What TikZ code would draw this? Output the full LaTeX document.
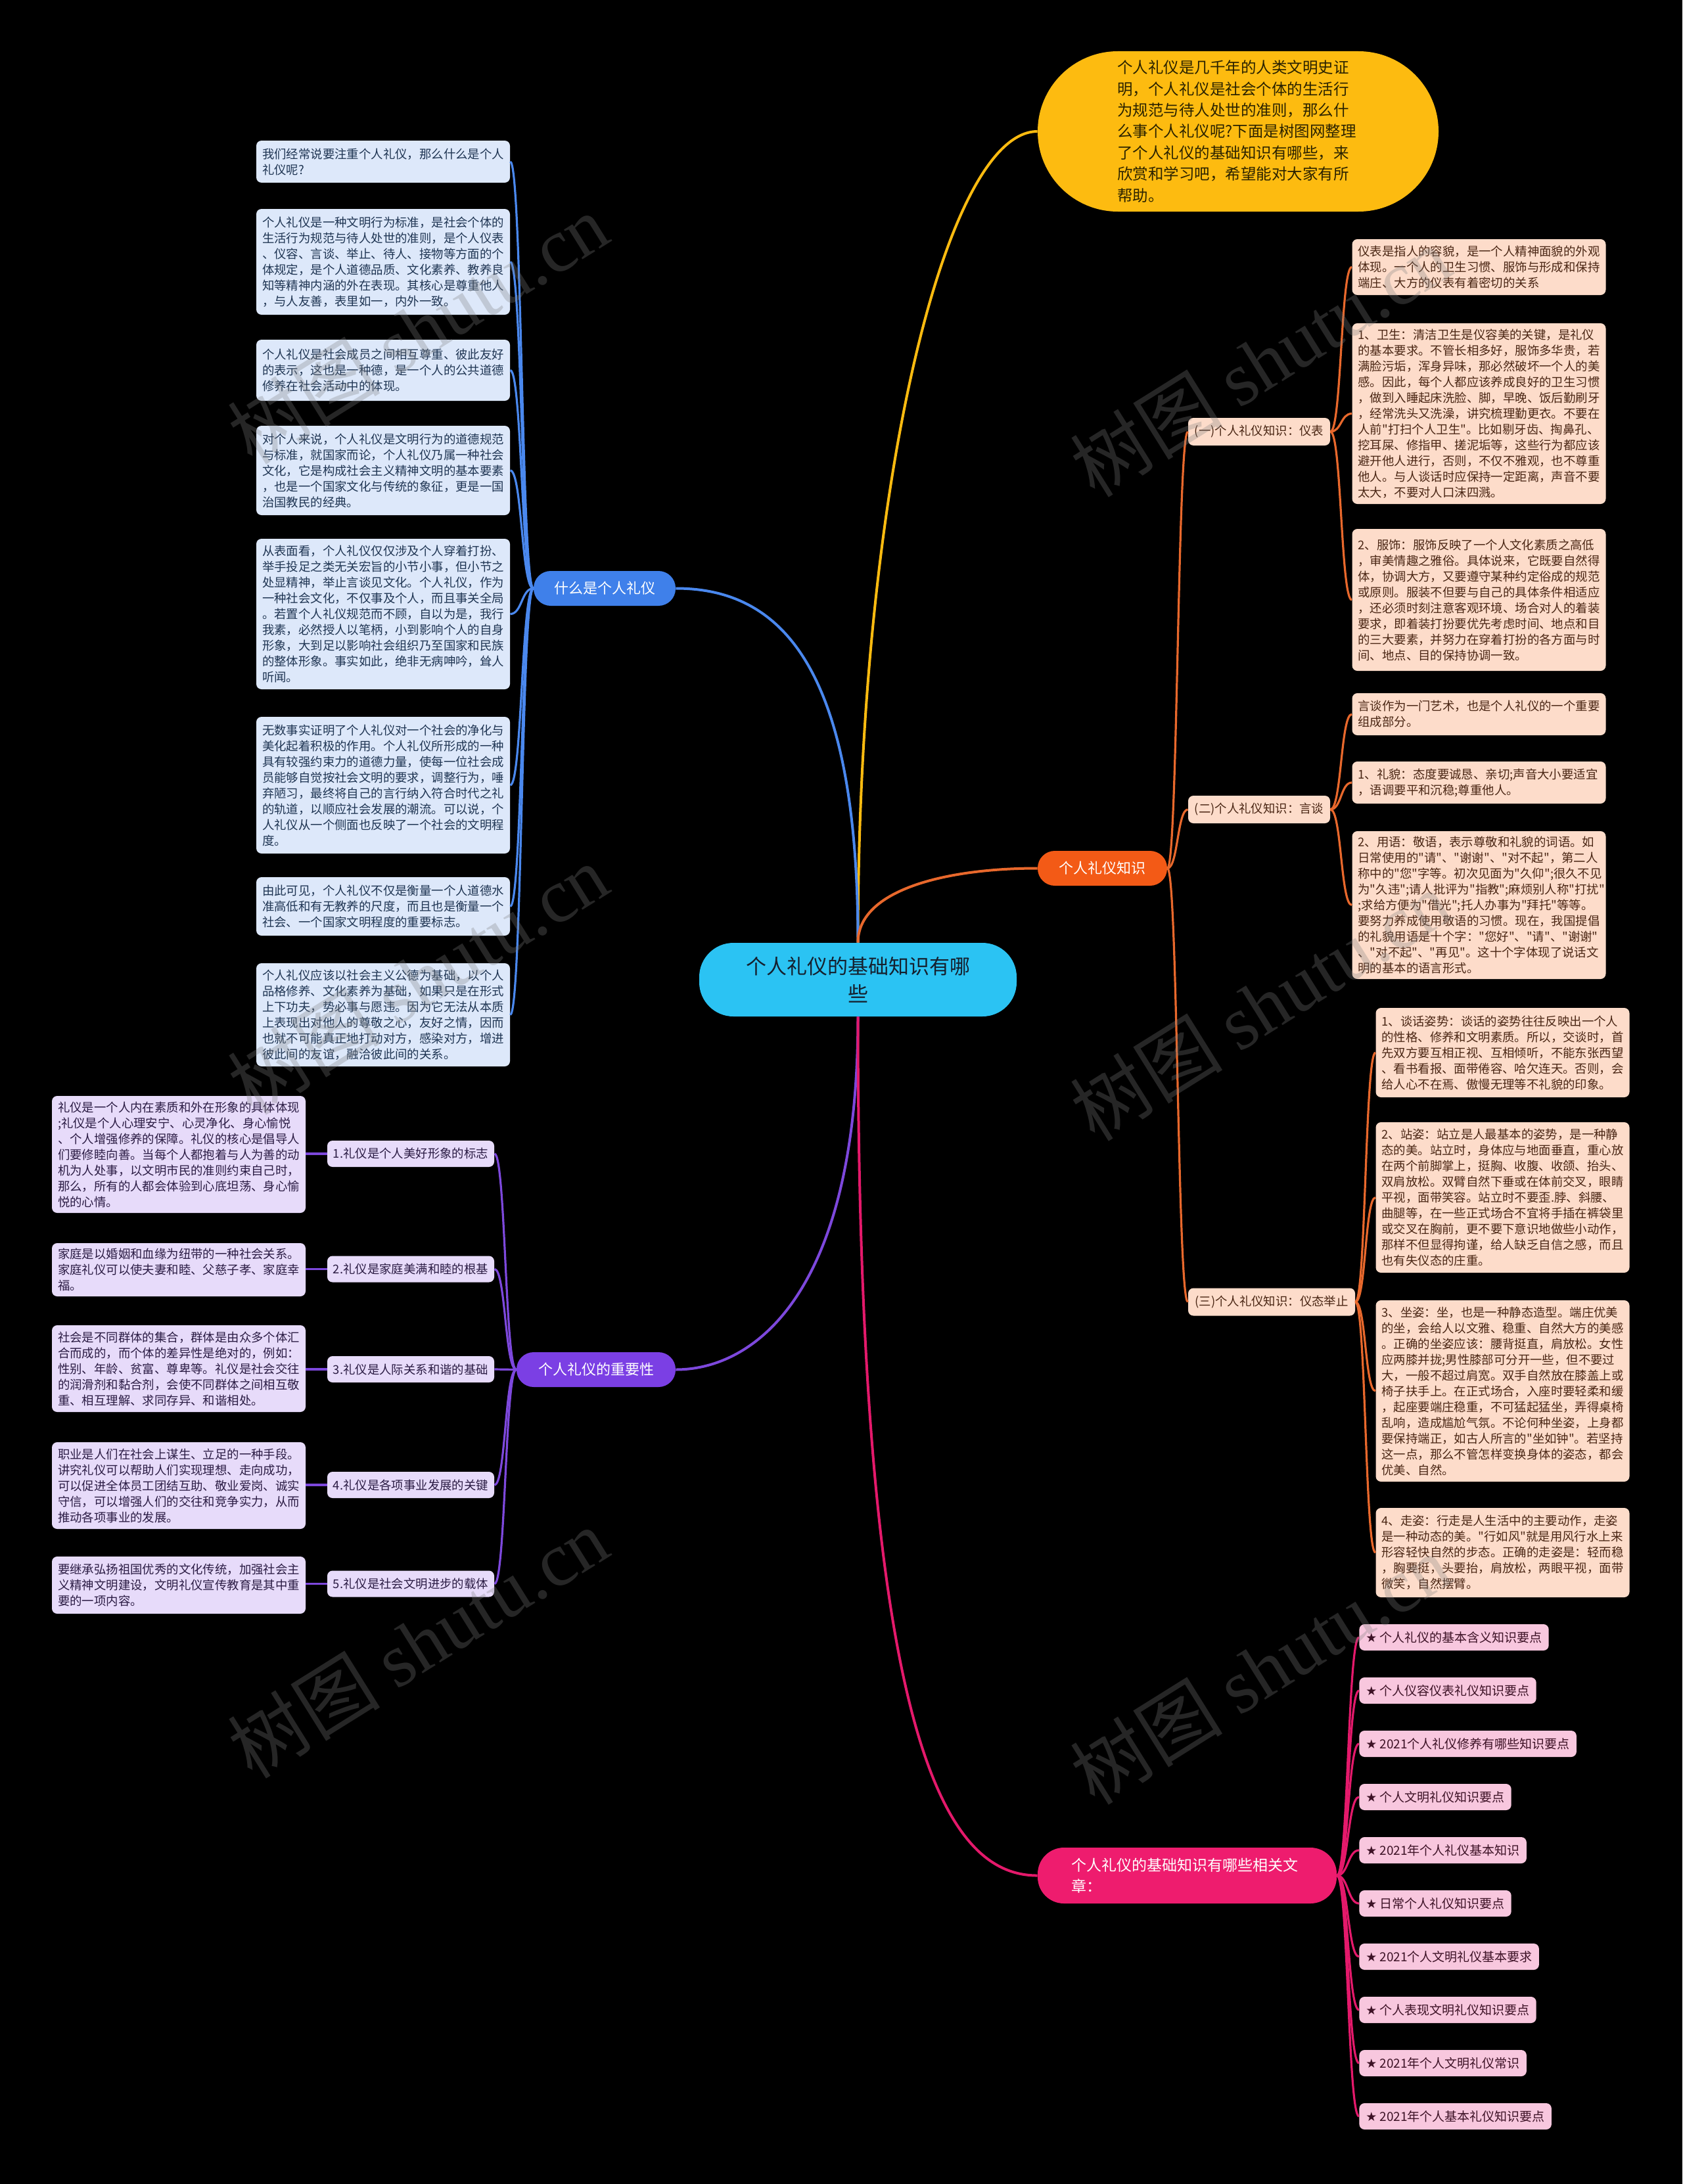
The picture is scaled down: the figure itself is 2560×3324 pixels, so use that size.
\documentclass[tikz,border=0pt]{standalone}
\usepackage{fontspec}
\setmainfont{Noto Sans CJK SC}[Ligatures=TeXOff]
\newfontfamily\djv{DejaVu Sans}
\newfontfamily\wmserif{Liberation Serif}
\usetikzlibrary{calc}
\definecolor{rootc}{HTML}{2BC3F3}
\definecolor{introc}{HTML}{FDBB10}
\definecolor{bluec}{HTML}{3F80EA}
\definecolor{bluel}{HTML}{DDE8FA}
\definecolor{bluet}{HTML}{1F3553}
\definecolor{bluelk}{HTML}{4A88EE}
\definecolor{orc}{HTML}{F35A16}
\definecolor{orl}{HTML}{FDDCCA}
\definecolor{ort}{HTML}{4A2614}
\definecolor{orlk}{HTML}{E8682C}
\definecolor{puc}{HTML}{7B3FE4}
\definecolor{pul}{HTML}{E7DBFA}
\definecolor{put}{HTML}{2B1C44}
\definecolor{pulk}{HTML}{7D48DC}
\definecolor{pkc}{HTML}{EE1C6E}
\definecolor{pkl}{HTML}{F8C7DE}
\definecolor{pkt}{HTML}{3D1226}
\definecolor{pklk}{HTML}{E4196B}
\definecolor{introt}{HTML}{2A2200}
\definecolor{roott}{HTML}{15202E}
\newcommand\fsleaf{\fontsize{9.2pt}{12pt}\selectfont}
\newcommand\fslab{\fontsize{9.2pt}{11pt}\selectfont}
\newcommand\fsbr{\fontsize{11pt}{13pt}\selectfont}
\newcommand\hconn[4]{\draw[#1] (#2) .. controls ($(#2)+(#4,0)$) and ($(#3)-(#4,0)$) .. (#3);}
\begin{document}
\begin{tikzpicture}[x=0.5pt,y=-0.5pt,
  leaf/.style={rounded corners=4pt, font=\fsleaf, text width=184pt, align=left, inner xsep=4.5pt, inner ysep=2pt},
  bleaf/.style={leaf, fill=bluel, text=bluet},
  oleaf/.style={leaf, fill=orl, text=ort},
  pleaf/.style={leaf, fill=pul, text=put},
  branch/.style={rounded corners=13pt, font=\fsbr, text=white, minimum height=26.5pt, inner sep=0pt, align=center},
  olab/.style={rounded corners=4pt, fill=orl, text=ort, font=\fslab, minimum height=21pt, inner sep=0pt},
  plab/.style={rounded corners=4pt, fill=pul, text=put, font=\fslab, minimum width=127pt, minimum height=20pt, inner sep=0pt},
  klink/.style={rounded corners=4pt, fill=pkl, text=pkt, font=\fontsize{9.5pt}{11pt}\selectfont, minimum height=20pt, inner xsep=5pt, inner ysep=0pt, anchor=west},
  rootlk/.style={line width=2pt},
  sublk/.style={line width=1.6pt},
  wm/.style={rotate=32, text=gray, opacity=0.3, font=\fontsize{58pt}{58pt}\selectfont}
]
\fill[black] (0,0) rectangle (2560,3324);
\useasboundingbox (0,0) rectangle (2560,3324);

% root and intro
\node[fill=rootc, text=roott, rounded corners=26pt, minimum width=241.5pt, minimum height=56pt, align=center, font=\fontsize{15.5pt}{21pt}\selectfont, inner sep=0pt] (root) at (1305.5,1491) {个人礼仪的基础知识有哪\\些};
\node[fill=introc, text=introt, rounded corners=61pt, minimum width=305pt, minimum height=122pt, text width=184pt, align=left, font=\fontsize{11.75pt}{16.2pt}\selectfont, inner sep=0pt] (intro) at (1884,200) {个人礼仪是几千年的人类文明史证\\明，个人礼仪是社会个体的生活行\\为规范与待人处世的准则，那么什\\么事个人礼仪呢?下面是树图网整理\\了个人礼仪的基础知识有哪些，来\\欣赏和学习吧，希望能对大家有所\\帮助。};

% branches
\node[branch, fill=bluec, minimum width=108pt] (bb) at (920,895.5) {什么是个人礼仪};
\node[branch, fill=orc, minimum width=98.5pt] (ob) at (1677.5,1321.5) {个人礼仪知识};
\node[branch, fill=puc, minimum width=121pt] (pb) at (907,2084.5) {个人礼仪的重要性};
\node[branch, fill=pkc, rounded corners=20pt, minimum width=227.5pt, minimum height=42.5pt, text width=176pt, align=left, font=\fontsize{11.5pt}{16pt}\selectfont] (kb) at (1806.5,2854.5) {个人礼仪的基础知识有哪些相关文\\章：};

% blue leaves
\node[bleaf, minimum height=32pt] (b1) at (583,246) {我们经常说要注重个人礼仪，那么什么是个人\\礼仪呢?};
\node[bleaf, minimum height=80.5pt] (b2) at (583,398.5) {个人礼仪是一种文明行为标准，是社会个体的\\生活行为规范与待人处世的准则，是个人仪表\\、仪容、言谈、举止、待人、接物等方面的个\\体规定，是个人道德品质、文化素养、教养良\\知等精神内涵的外在表现。其核心是尊重他人\\，与人友善，表里如一，内外一致。};
\node[bleaf, minimum height=46.5pt] (b3) at (583,563.5) {个人礼仪是社会成员之间相互尊重、彼此友好\\的表示，这也是一种德，是一个人的公共道德\\修养在社会活动中的体现。};
\node[bleaf, minimum height=68pt] (b4) at (583,716) {对个人来说，个人礼仪是文明行为的道德规范\\与标准，就国家而论，个人礼仪乃属一种社会\\文化，它是构成社会主义精神文明的基本要素\\，也是一个国家文化与传统的象征，更是一国\\治国教民的经典。};
\node[bleaf, minimum height=114.5pt] (b5) at (583,934.5) {从表面看，个人礼仪仅仅涉及个人穿着打扮、\\举手投足之类无关宏旨的小节小事，但小节之\\处显精神，举止言谈见文化。个人礼仪，作为\\一种社会文化，不仅事及个人，而且事关全局\\。若置个人礼仪规范而不顾，自以为是，我行\\我素，必然授人以笔柄，小到影响个人的自身\\形象，大到足以影响社会组织乃至国家和民族\\的整体形象。事实如此，绝非无病呻吟，耸人\\听闻。};
\node[bleaf, minimum height=104pt] (b6) at (583,1195) {无数事实证明了个人礼仪对一个社会的净化与\\美化起着积极的作用。个人礼仪所形成的一种\\具有较强约束力的道德力量，使每一位社会成\\员能够自觉按社会文明的要求，调整行为，唾\\弃陋习，最终将自己的言行纳入符合时代之礼\\的轨道，以顺应社会发展的潮流。可以说，个\\人礼仪从一个侧面也反映了一个社会的文明程\\度。};
\node[bleaf, minimum height=44.5pt] (b7) at (583,1379.5) {由此可见，个人礼仪不仅是衡量一个人道德水\\准高低和有无教养的尺度，而且也是衡量一个\\社会、一个国家文明程度的重要标志。};
\node[bleaf, minimum height=78.5pt] (b8) at (583,1544.5) {个人礼仪应该以社会主义公德为基础，以个人\\品格修养、文化素养为基础，如果只是在形式\\上下功夫，势必事与愿违。因为它无法从本质\\上表现出对他人的尊敬之心，友好之情，因而\\也就不可能真正地打动对方，感染对方，增进\\彼此间的友谊，融洽彼此间的关系。};

% orange labels
\node[olab, minimum width=108pt] (o1) at (1916,657) {(一)个人礼仪知识：仪表};
\node[olab, minimum width=108pt] (o2) at (1916,1232) {(二)个人礼仪知识：言谈};
\node[olab, minimum width=127pt] (o3) at (1935,1981.5) {(三)个人礼仪知识：仪态举止};

% orange leaves
\node[oleaf, minimum height=42.5pt] (a1) at (2250.5,406.5) {仪表是指人的容貌，是一个人精神面貌的外观\\体现。一个人的卫生习惯、服饰与形成和保持\\端庄、大方的仪表有着密切的关系};
\node[oleaf, minimum height=137.5pt] (a2) at (2250.5,629.5) {1、卫生：清洁卫生是仪容美的关键，是礼仪\\的基本要求。不管长相多好，服饰多华贵，若\\满脸污垢，浑身异味，那必然破坏一个人的美\\感。因此，每个人都应该养成良好的卫生习惯\\，做到入睡起床洗脸、脚，早晚、饭后勤刷牙\\，经常洗头又洗澡，讲究梳理勤更衣。不要在\\人前"打扫个人卫生"。比如剔牙齿、掏鼻孔、\\挖耳屎、修指甲、搓泥垢等，这些行为都应该\\避开他人进行，否则，不仅不雅观，也不尊重\\他人。与人谈话时应保持一定距离，声音不要\\太大，不要对人口沫四溅。};
\node[oleaf, minimum height=108pt] (a3) at (2250.5,913) {2、服饰：服饰反映了一个人文化素质之高低\\，审美情趣之雅俗。具体说来，它既要自然得\\体，协调大方，又要遵守某种约定俗成的规范\\或原则。服装不但要与自己的具体条件相适应\\，还必须时刻注意客观环境、场合对人的着装\\要求，即着装打扮要优先考虑时间、地点和目\\的三大要素，并努力在穿着打扮的各方面与时\\间、地点、目的保持协调一致。};
\node[oleaf, minimum height=32pt] (a4) at (2250.5,1087) {言谈作为一门艺术，也是个人礼仪的一个重要\\组成部分。};
\node[oleaf, minimum height=32pt] (a5) at (2250.5,1191) {1、礼貌：态度要诚恳、亲切;声音大小要适宜\\，语调要平和沉稳;尊重他人。};
\node[oleaf, minimum height=112.5pt] (a6) at (2250.5,1377.5) {2、用语：敬语，表示尊敬和礼貌的词语。如\\日常使用的"请"、"谢谢"、"对不起"，第二人\\称中的"您"字等。初次见面为"久仰";很久不见\\为"久违";请人批评为"指教";麻烦别人称"打扰"\\;求给方便为"借光";托人办事为"拜托"等等。\\要努力养成使用敬语的习惯。现在，我国提倡\\的礼貌用语是十个字："您好"、"请"、"谢谢"\\、"对不起"、"再见"。这十个字体现了说话文\\明的基本的语言形式。};
\node[oleaf, minimum height=68pt] (c1) at (2286.5,1602) {1、谈话姿势：谈话的姿势往往反映出一个人\\的性格、修养和文明素质。所以，交谈时，首\\先双方要互相正视、互相倾听，不能东张西望\\、看书看报、面带倦容、哈欠连天。否则，会\\给人心不在焉、傲慢无理等不礼貌的印象。};
\node[oleaf, minimum height=114.5pt] (c2) at (2286.5,1822.5) {2、站姿：站立是人最基本的姿势，是一种静\\态的美。站立时，身体应与地面垂直，重心放\\在两个前脚掌上，挺胸、收腹、收颌、抬头、\\双肩放松。双臂自然下垂或在体前交叉，眼睛\\平视，面带笑容。站立时不要歪.脖、斜腰、\\曲腿等，在一些正式场合不宜将手插在裤袋里\\或交叉在胸前，更不要下意识地做些小动作，\\那样不但显得拘谨，给人缺乏自信之感，而且\\也有失仪态的庄重。};
\node[oleaf, minimum height=138pt] (c3) at (2286.5,2117) {3、坐姿：坐，也是一种静态造型。端庄优美\\的坐，会给人以文雅、稳重、自然大方的美感\\。正确的坐姿应该：腰背挺直，肩放松。女性\\应两膝并拢;男性膝部可分开一些，但不要过\\大，一般不超过肩宽。双手自然放在膝盖上或\\椅子扶手上。在正式场合，入座时要轻柔和缓\\，起座要端庄稳重，不可猛起猛坐，弄得桌椅\\乱响，造成尴尬气氛。不论何种坐姿，上身都\\要保持端正，如古人所言的"坐如钟"。若坚持\\这一点，那么不管怎样变换身体的姿态，都会\\优美、自然。};
\node[oleaf, minimum height=68pt] (c4) at (2286.5,2363) {4、走姿：行走是人生活中的主要动作，走姿\\是一种动态的美。"行如风"就是用风行水上来\\形容轻快自然的步态。正确的走姿是：轻而稳\\，胸要挺，头要抬，肩放松，两眼平视，面带\\微笑，自然摆臂。};

% purple labels
\node[plab] (q1) at (625,1756) {1.礼仪是个人美好形象的标志};
\node[plab] (q2) at (625,1931.5) {2.礼仪是家庭美满和睦的根基};
\node[plab] (q3) at (625,2084) {3.礼仪是人际关系和谐的基础};
\node[plab] (q4) at (625,2260) {4.礼仪是各项事业发展的关键};
\node[plab] (q5) at (625,2410.5) {5.礼仪是社会文明进步的载体};

% purple leaves
\node[pleaf, minimum height=89pt] (p1) at (272,1757) {礼仪是一个人内在素质和外在形象的具体体现\\;礼仪是个人心理安宁、心灵净化、身心愉悦\\、个人增强修养的保障。礼仪的核心是倡导人\\们要修睦向善。当每个人都抱着与人为善的动\\机为人处事，以文明市民的准则约束自己时，\\那么，所有的人都会体验到心底坦荡、身心愉\\悦的心情。};
\node[pleaf, minimum height=40.5pt] (p2) at (272,1932.5) {家庭是以婚姻和血缘为纽带的一种社会关系。\\家庭礼仪可以使夫妻和睦、父慈子孝、家庭幸\\福。};
\node[pleaf, minimum height=66pt] (p3) at (272,2083) {社会是不同群体的集合，群体是由众多个体汇\\合而成的，而个体的差异性是绝对的，例如：\\性别、年龄、贫富、尊卑等。礼仪是社会交往\\的润滑剂和黏合剂，会使不同群体之间相互敬\\重、相互理解、求同存异、和谐相处。};
\node[pleaf, minimum height=66pt] (p4) at (272,2261) {职业是人们在社会上谋生、立足的一种手段。\\讲究礼仪可以帮助人们实现理想、走向成功，\\可以促进全体员工团结互助、敬业爱岗、诚实\\守信，可以增强人们的交往和竞争实力，从而\\推动各项事业的发展。};
\node[pleaf, minimum height=43.5pt] (p5) at (272,2412.5) {要继承弘扬祖国优秀的文化传统，加强社会主\\义精神文明建设，文明礼仪宣传教育是其中重\\要的一项内容。};

% pink links
\node[klink] (k1) at (2068,2492) {{\djv ★} 个人礼仪的基本含义知识要点};
\node[klink] (k2) at (2068,2573) {{\djv ★} 个人仪容仪表礼仪知识要点};
\node[klink] (k3) at (2068,2654) {{\djv ★} 2021个人礼仪修养有哪些知识要点};
\node[klink] (k4) at (2068,2735) {{\djv ★} 个人文明礼仪知识要点};
\node[klink] (k5) at (2068,2816) {{\djv ★} 2021年个人礼仪基本知识};
\node[klink] (k6) at (2068,2897) {{\djv ★} 日常个人礼仪知识要点};
\node[klink] (k7) at (2068,2978) {{\djv ★} 2021个人文明礼仪基本要求};
\node[klink] (k8) at (2068,3059) {{\djv ★} 个人表现文明礼仪知识要点};
\node[klink] (k9) at (2068,3140) {{\djv ★} 2021年个人文明礼仪常识};
\node[klink] (k10) at (2068,3221) {{\djv ★} 2021年个人基本礼仪知识要点};

% root connectors
\draw[rootlk, introc] (root.north) .. controls ($(root.north)+(0,-690)$) and ($(intro.west)+(-140,0)$) .. (intro.west);
\draw[rootlk, bluelk] (root.north) .. controls ($(root.north)+(0,-420)$) and ($(bb.east)+(160,0)$) .. (bb.east);
\draw[rootlk, orlk] (root.north) .. controls ($(root.north)+(0,-80)$) and ($(ob.west)+(-140,0)$) .. (ob.west);
\draw[rootlk, pulk] (root.south) .. controls ($(root.south)+(0,420)$) and ($(pb.east)+(120,0)$) .. (pb.east);
\draw[rootlk, pklk] (root.south) .. controls ($(root.south)+(0,1100)$) and ($(kb.west)+(-140,0)$) .. (kb.west);

% blue sub connectors
\hconn{sublk, bluelk}{bb.west}{b1.east}{-18}
\hconn{sublk, bluelk}{bb.west}{b2.east}{-18}
\hconn{sublk, bluelk}{bb.west}{b3.east}{-18}
\hconn{sublk, bluelk}{bb.west}{b4.east}{-18}
\hconn{sublk, bluelk}{bb.west}{b5.east}{-18}
\hconn{sublk, bluelk}{bb.west}{b6.east}{-18}
\hconn{sublk, bluelk}{bb.west}{b7.east}{-18}
\hconn{sublk, bluelk}{bb.west}{b8.east}{-18}

% orange sub connectors
\hconn{sublk, orlk}{ob.east}{o1.west}{16}
\hconn{sublk, orlk}{ob.east}{o2.west}{16}
\hconn{sublk, orlk}{ob.east}{o3.west}{16}
\hconn{sublk, orlk}{o1.east}{a1.west}{17}
\hconn{sublk, orlk}{o1.east}{a2.west}{17}
\hconn{sublk, orlk}{o1.east}{a3.west}{17}
\hconn{sublk, orlk}{o2.east}{a4.west}{17}
\hconn{sublk, orlk}{o2.east}{a5.west}{17}
\hconn{sublk, orlk}{o2.east}{a6.west}{17}
\hconn{sublk, orlk}{o3.east}{c1.west}{16}
\hconn{sublk, orlk}{o3.east}{c2.west}{16}
\hconn{sublk, orlk}{o3.east}{c3.west}{16}
\hconn{sublk, orlk}{o3.east}{c4.west}{16}

% purple sub connectors
\hconn{sublk, pulk}{pb.west}{q1.east}{-17}
\hconn{sublk, pulk}{pb.west}{q2.east}{-17}
\hconn{sublk, pulk}{pb.west}{q3.east}{-17}
\hconn{sublk, pulk}{pb.west}{q4.east}{-17}
\hconn{sublk, pulk}{pb.west}{q5.east}{-17}
\draw[sublk, pulk] (q1.west) -- (p1.east |- q1.west);
\draw[sublk, pulk] (q2.west) -- (p2.east |- q2.west);
\draw[sublk, pulk] (q3.west) -- (p3.east |- q3.west);
\draw[sublk, pulk] (q4.west) -- (p4.east |- q4.west);
\draw[sublk, pulk] (q5.west) -- (p5.east |- q5.west);

% pink sub connectors
\hconn{sublk, pklk}{kb.east}{k1.west}{17}
\hconn{sublk, pklk}{kb.east}{k2.west}{17}
\hconn{sublk, pklk}{kb.east}{k3.west}{17}
\hconn{sublk, pklk}{kb.east}{k4.west}{17}
\hconn{sublk, pklk}{kb.east}{k5.west}{17}
\hconn{sublk, pklk}{kb.east}{k6.west}{17}
\hconn{sublk, pklk}{kb.east}{k7.west}{17}
\hconn{sublk, pklk}{kb.east}{k8.west}{17}
\hconn{sublk, pklk}{kb.east}{k9.west}{17}
\hconn{sublk, pklk}{kb.east}{k10.west}{17}

% watermarks
\node[wm] (w1) at (636,500) {树图 {\wmserif shutu.cn}};
\node[wm] (w2) at (636,1490) {树图 {\wmserif shutu.cn}};
\node[wm] (w3) at (636,2500) {树图 {\wmserif shutu.cn}};
\node[wm] (w4) at (1918,550) {树图 {\wmserif shutu.cn}};
\node[wm] (w5) at (1918,1530) {树图 {\wmserif shutu.cn}};
\node[wm] (w6) at (1918,2540) {树图 {\wmserif shutu.cn}};
\end{tikzpicture}
\end{document}
